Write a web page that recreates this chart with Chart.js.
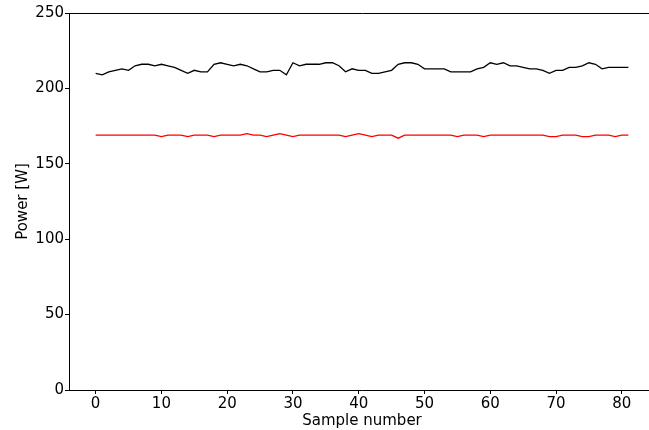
<!DOCTYPE html>
<html>
<head>
<meta charset="utf-8">
<script src="https://cdn.jsdelivr.net/npm/chart.js@4.4.1/dist/chart.umd.min.js"></script>
<style>
  html, body { margin: 0; padding: 0; background: #fff; overflow: hidden; }
  #wrap { width: 660px; height: 430px; position: relative; }
</style>
</head>
<body>
<div id="wrap"><canvas id="powerChart"></canvas></div>
<script>
// sample index on the x axis
const sampleNumbers = [0,1,2,3,4,5,6,7,8,9,10,11,12,13,14,15,16,17,18,19,20,
  21,22,23,24,25,26,27,28,29,30,31,32,33,34,35,36,37,38,39,40,41,42,43,44,45,
  46,47,48,49,50,51,52,53,54,55,56,57,58,59,60,61,62,63,64,65,66,67,68,69,70,
  71,72,73,74,75,76,77,78,79,80,81];

// black curve
const powerBlack = [210,209,211,212,213,212,215,216,216,215,216,215,214,212,210,
  212,211,211,216,217,216,215,216,215,213,211,211,212,212,209,217,215,216,216,
  216,217,217,215,211,213,212,212,210,210,211,212,216,217,217,216,213,213,213,
  213,211,211,211,211,213,214,217,216,217,215,215,214,213,213,212,210,212,212,
  214,214,215,217,216,213,214,214,214,214];

// red curve
const powerRed = [169,169,169,169,169,169,169,169,169,169,168,169,169,169,168,
  169,169,169,168,169,169,169,169,170,169,169,168,169,170,169,168,169,169,169,
  169,169,169,169,168,169,170,169,168,169,169,169,167,169,169,169,169,169,169,
  169,169,168,169,169,169,168,169,169,169,169,169,169,169,169,169,168,168,169,
  169,169,168,168,169,169,169,168,169,169];

const xTicks = [0,10,20,30,40,50,60,70,80];
const yTicks = [0,50,100,150,200,250];

function toPoints(xs, ys) {
  var pts = [];
  for (var i = 0; i < xs.length; i++) pts.push({x: xs[i], y: ys[i]});
  return pts;
}

const tickFont = {family: "DejaVu Sans", size: 15};
const titleFont = {family: "DejaVu Sans", size: 15};

var ctx = document.getElementById("powerChart").getContext("2d");
var myChart = new Chart(ctx, {
  type: "line",
  data: {
    datasets: [
      {
        label: "black",
        data: toPoints(sampleNumbers, powerBlack),
        borderColor: "#000000",
        borderWidth: 1.3,
        pointRadius: 0,
        tension: 0
      },
      {
        label: "red",
        data: toPoints(sampleNumbers, powerRed),
        borderColor: "#ff0000",
        borderWidth: 1.3,
        pointRadius: 0,
        tension: 0
      }
    ]
  },
  options: {
    responsive: true,
    maintainAspectRatio: false,
    animation: false,
    layout: { padding: { left: 0, right: 5, top: 0, bottom: 0 } },
    plugins: { legend: { display: false }, tooltip: { enabled: false } },
    scales: {
      x: {
        type: "linear",
        position: "bottom",
        min: -4.05,
        max: 85.05,
        afterBuildTicks: function(scale) {
          scale.ticks = xTicks.map(function(v) { return {value: v}; });
        },
        ticks: { color: "#000", font: tickFont, padding: 1, maxRotation: 0 },
        grid: { drawOnChartArea: false, drawTicks: true, tickLength: 4, color: "#000" },
        border: { display: true, color: "#000", width: 1 },
        title: { display: true, text: "Sample number", color: "#000", font: titleFont, padding: {top: 0, bottom: 0} },
        afterFit: function(scale) { scale.height = 40; }
      },
      xTop: {
        type: "linear",
        position: "top",
        min: -4.05,
        max: 85.05,
        ticks: { display: false },
        grid: { display: false },
        border: { display: true, color: "#000", width: 1 },
        afterFit: function(scale) { scale.height = 13; }
      },
      y: {
        type: "linear",
        min: 0,
        max: 250,
        afterBuildTicks: function(scale) {
          scale.ticks = yTicks.map(function(v) { return {value: v}; });
        },
        ticks: { color: "#000", font: tickFont, padding: 1 },
        grid: { drawOnChartArea: false, drawTicks: true, tickLength: 4, color: "#000" },
        border: { display: true, color: "#000", width: 1 },
        title: { display: true, text: "Power [W]", color: "#000", font: titleFont, padding: {top: 14, bottom: 0} },
        afterFit: function(scale) { scale.width = 69; }
      }
    }
  }
});
</script>
</body>
</html>
